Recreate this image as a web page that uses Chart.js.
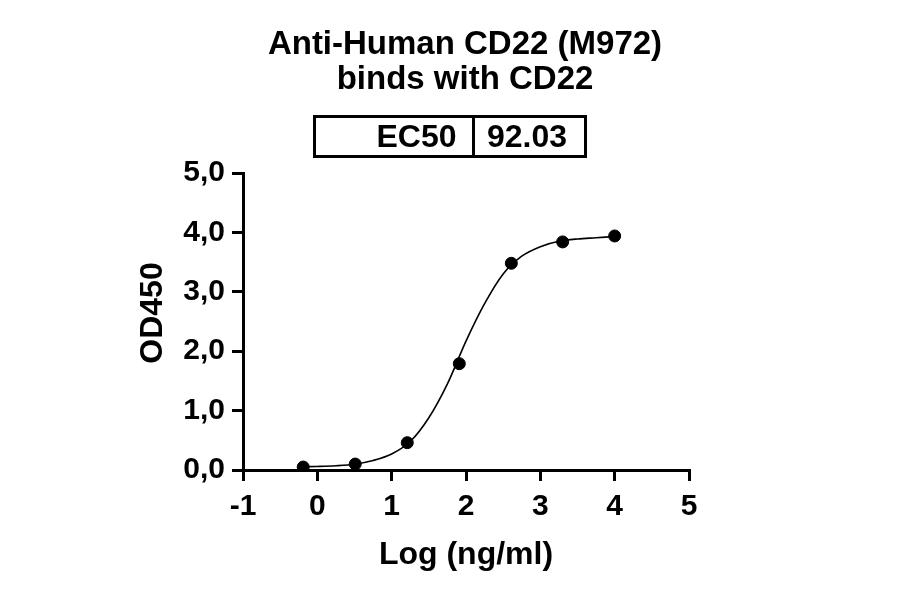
<!DOCTYPE html>
<html>
<head>
<meta charset="utf-8">
<script src="https://cdn.jsdelivr.net/npm/chart.js@4/dist/chart.umd.min.js"></script>
<style>
  html, body { margin: 0; padding: 0; background: #fff; }
  #wrap { position: relative; width: 900px; height: 594px; overflow: hidden; }
  #c { position: absolute; left: 0; top: 0; }
  .title { position: absolute; left: 0; width: 930px; text-align: center; font-family: "Liberation Sans", Arial, sans-serif; font-weight: bold; font-size: 33px; color: #000; line-height: 33px; white-space: nowrap; }
  #box { position: absolute; left: 313px; top: 115px; width: 274px; height: 43px; box-sizing: border-box; border: 3px solid #000; font-family: "Liberation Sans", Arial, sans-serif; font-weight: bold; font-size: 32px; color: #000; }
  #box .l { position: absolute; left: 0; top: 0; width: 158.5px; height: 37px; border-right: 3px solid #000; text-align: right; line-height: 37px; box-sizing: border-box; padding-right: 15px; }
  #box .r { position: absolute; left: 171px; top: 0; line-height: 37px; }
</style>
</head>
<body>
<div id="wrap">
  <canvas id="c" width="900" height="594"></canvas>
  <div class="title" style="top:26px">Anti-Human CD22 (M972)</div>
  <div class="title" style="top:61px">binds with CD22</div>
  <div id="box"><div class="l">EC50</div><div class="r">92.03</div></div>
</div>
<script>
// Measured points (log concentration, OD450)
const logConc = [-0.19, 0.51, 1.21, 1.91, 2.61, 3.30, 4.00];
const od450 = [0.05, 0.10, 0.46, 1.79, 3.48, 3.84, 3.94];
// Fitted curve
const curveX = [-0.19, 0.0, 0.25, 0.5, 0.75, 1.0, 1.25, 1.5, 1.75, 2.0, 2.25, 2.5, 2.75, 3.0, 3.25, 3.5, 3.75, 4.0];
const curveY = [0.055, 0.06, 0.072, 0.098, 0.16, 0.27, 0.48, 0.88, 1.45, 2.17, 2.80, 3.30, 3.60, 3.76, 3.85, 3.89, 3.91, 3.93];
const xTicks = [-1, 0, 1, 2, 3, 4, 5];
const yTicks = [0, 1, 2, 3, 4, 5];

const FONT = "'Liberation Sans', Arial, sans-serif";
const pts = logConc.map((x, i) => ({ x: x, y: od450[i] }));
const curve = curveX.map((x, i) => ({ x: x, y: curveY[i] }));

const yTitlePlugin = {
  id: 'yTitle',
  afterDraw(chart) {
    const ctx = chart.ctx;
    ctx.save();
    ctx.translate(152.5, 313);
    ctx.rotate(-Math.PI / 2);
    ctx.font = 'bold 32px ' + FONT;
    ctx.fillStyle = '#000';
    ctx.textAlign = 'center';
    ctx.textBaseline = 'middle';
    ctx.fillText('OD450', 0, 1);
    ctx.restore();
  }
};

new Chart(document.getElementById('c'), {
  type: 'scatter',
  data: {
    datasets: [
      { data: curve, showLine: true, borderColor: '#000', borderWidth: 1.6, pointRadius: 0, cubicInterpolationMode: 'monotone', fill: false },
      { data: pts, showLine: false, backgroundColor: '#000', borderColor: '#000', pointRadius: 6, pointHoverRadius: 6 }
    ]
  },
  plugins: [yTitlePlugin],
  options: {
    responsive: false,
    animation: false,
    devicePixelRatio: 1,
    layout: { padding: { left: 100, right: 211, top: 173, bottom: 20 } },
    plugins: { legend: { display: false }, tooltip: { enabled: false }, title: { display: false } },
    scales: {
      x: {
        type: 'linear', min: -1, max: 5,
        afterBuildTicks: s => { s.ticks = xTicks.map(v => ({ value: v })); },
        afterFit: s => { s.height = 104; },
        ticks: { color: '#000', font: { family: FONT, size: 30, weight: 'bold' }, padding: 8, maxRotation: 0, callback: v => String(v) },
        grid: { display: true, drawOnChartArea: false, drawTicks: true, tickLength: 11, color: '#000', lineWidth: 3 },
        border: { display: true, color: '#000', width: 3 },
        title: { display: true, text: 'Log (ng/ml)', color: '#000', font: { family: FONT, size: 32, weight: 'bold' }, padding: 0 }
      },
      y: {
        type: 'linear', min: 0, max: 5,
        afterBuildTicks: s => { s.ticks = yTicks.map(v => ({ value: v })); },
        afterFit: s => { s.width = 143; },
        ticks: { color: '#000', font: { family: FONT, size: 30, weight: 'bold' }, padding: 7, callback: v => v.toFixed(1).replace('.', ',') },
        grid: { display: true, drawOnChartArea: false, drawTicks: true, tickLength: 11, color: '#000', lineWidth: 3 },
        border: { display: true, color: '#000', width: 3 },
        title: { display: false }
      }
    }
  }
});
</script>
</body>
</html>
